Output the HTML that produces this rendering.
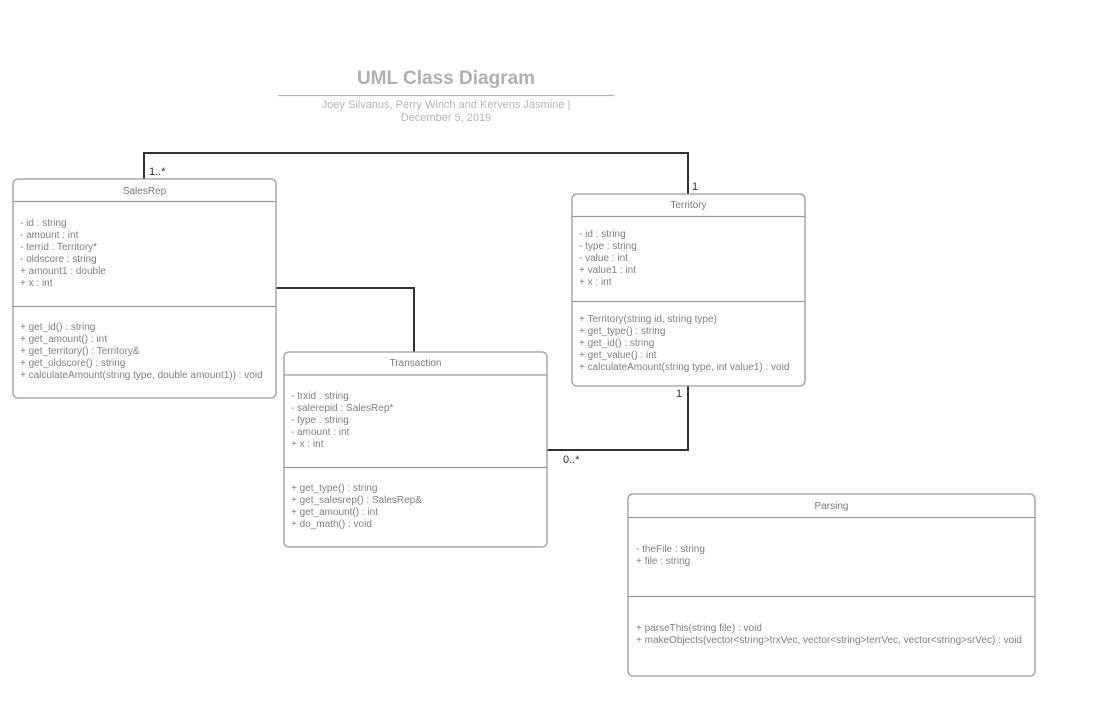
<!DOCTYPE html>
<html><head><meta charset="utf-8"><style>
html,body{margin:0;padding:0;background:#fff;}
svg{display:block;}
text{font-family:"Liberation Sans",sans-serif;}
.t{font-size:10px;fill:#808080;}
.h{font-size:10px;fill:#7a7a7a;}
.m{font-size:11px;fill:#333;}
.box{fill:#fff;stroke:#9a9a9a;stroke-width:1.3;}
.d{stroke:#9a9a9a;stroke-width:1.2;}
.c{stroke:#333;stroke-width:2;fill:none;}
</style></head><body>
<svg width="1101" height="703" viewBox="0 0 1101 703" xmlns="http://www.w3.org/2000/svg">
<text x="446" y="84" text-anchor="middle" style="font-size:19px;font-weight:bold;fill:#b0b0b0">UML Class Diagram</text>
<line x1="278" y1="95.5" x2="614" y2="95.5" stroke="#b5b5b5" stroke-width="1.3"/>
<text x="446" y="108" text-anchor="middle" style="font-size:11px;fill:#b5b5b5">Joey Silvanus, Perry Winch and Kervens Jasmine |</text>
<text x="446" y="121" text-anchor="middle" style="font-size:11px;fill:#b5b5b5">December 5, 2019</text>

<polyline class="c" points="144,179 144,153 688,153 688,194"/>
<polyline class="c" points="276,288 414,288 414,352"/>
<polyline class="c" points="688,386 688,450 547,450"/>
<text class="m" x="149" y="175">1..*</text>
<text class="m" x="692" y="190">1</text>
<text class="m" x="676" y="397">1</text>
<text class="m" x="563" y="463">0..*</text>

<rect class="box" x="13" y="179" width="263" height="219" rx="5"/>
<line class="d" x1="13" y1="201.5" x2="276" y2="201.5"/>
<line class="d" x1="13" y1="306.5" x2="276" y2="306.5"/>
<text class="h" x="144.5" y="194" text-anchor="middle">SalesRep</text>
<text class="t" x="20" y="226">- id : string</text>
<text class="t" x="20" y="238">- amount : int</text>
<text class="t" x="20" y="250">- terrid : Territory*</text>
<text class="t" x="20" y="262">- oldscore : string</text>
<text class="t" x="20" y="274">+ amount1 : double</text>
<text class="t" x="20" y="286">+ x : int</text>
<text class="t" x="20" y="330">+ get_id() : string</text>
<text class="t" x="20" y="342">+ get_amount() : int</text>
<text class="t" x="20" y="354">+ get_territory() : Territory&amp;</text>
<text class="t" x="20" y="366">+ get_oldscore() : string</text>
<text class="t" x="20" y="378">+ calculateAmount(string type, double amount1)) : void</text>

<rect class="box" x="572" y="194" width="233" height="192" rx="5"/>
<line class="d" x1="572" y1="216.5" x2="805" y2="216.5"/>
<line class="d" x1="572" y1="301.5" x2="805" y2="301.5"/>
<text class="h" x="688.5" y="208" text-anchor="middle">Territory</text>
<text class="t" x="579" y="237">- id : string</text>
<text class="t" x="579" y="249">- type : string</text>
<text class="t" x="579" y="261">- value : int</text>
<text class="t" x="579" y="273">+ value1 : int</text>
<text class="t" x="579" y="285">+ x : int</text>
<text class="t" x="579" y="322">+ Territory(string id, string type)</text>
<text class="t" x="579" y="334">+ get_type() : string</text>
<text class="t" x="579" y="346">+ get_id() : string</text>
<text class="t" x="579" y="358">+ get_value() : int</text>
<text class="t" x="579" y="370">+ calculateAmount(string type, int value1) : void</text>

<rect class="box" x="284" y="352" width="263" height="195" rx="5"/>
<line class="d" x1="284" y1="375" x2="547" y2="375"/>
<line class="d" x1="284" y1="467.5" x2="547" y2="467.5"/>
<text class="h" x="415.5" y="366" text-anchor="middle">Transaction</text>
<text class="t" x="291" y="399">- trxid : string</text>
<text class="t" x="291" y="411">- salerepid : SalesRep*</text>
<text class="t" x="291" y="423">- type : string</text>
<text class="t" x="291" y="435">- amount : int</text>
<text class="t" x="291" y="447">+ x : int</text>
<text class="t" x="291" y="491">+ get_type() : string</text>
<text class="t" x="291" y="503">+ get_salesrep() : SalesRep&amp;</text>
<text class="t" x="291" y="515">+ get_amount() : int</text>
<text class="t" x="291" y="527">+ do_math() : void</text>

<rect class="box" x="628" y="494" width="407" height="182" rx="5"/>
<line class="d" x1="628" y1="517.5" x2="1035" y2="517.5"/>
<line class="d" x1="628" y1="596.5" x2="1035" y2="596.5"/>
<text class="h" x="831.5" y="509" text-anchor="middle">Parsing</text>
<text class="t" x="636" y="552">- theFile : string</text>
<text class="t" x="636" y="564">+ file : string</text>
<text class="t" x="636" y="631">+ parseThis(string file) : void</text>
<text class="t" x="636" y="643">+ makeObjects(vector&lt;string&gt;trxVec, vector&lt;string&gt;terrVec, vector&lt;string&gt;srVec) : void</text>
</svg>
</body></html>
